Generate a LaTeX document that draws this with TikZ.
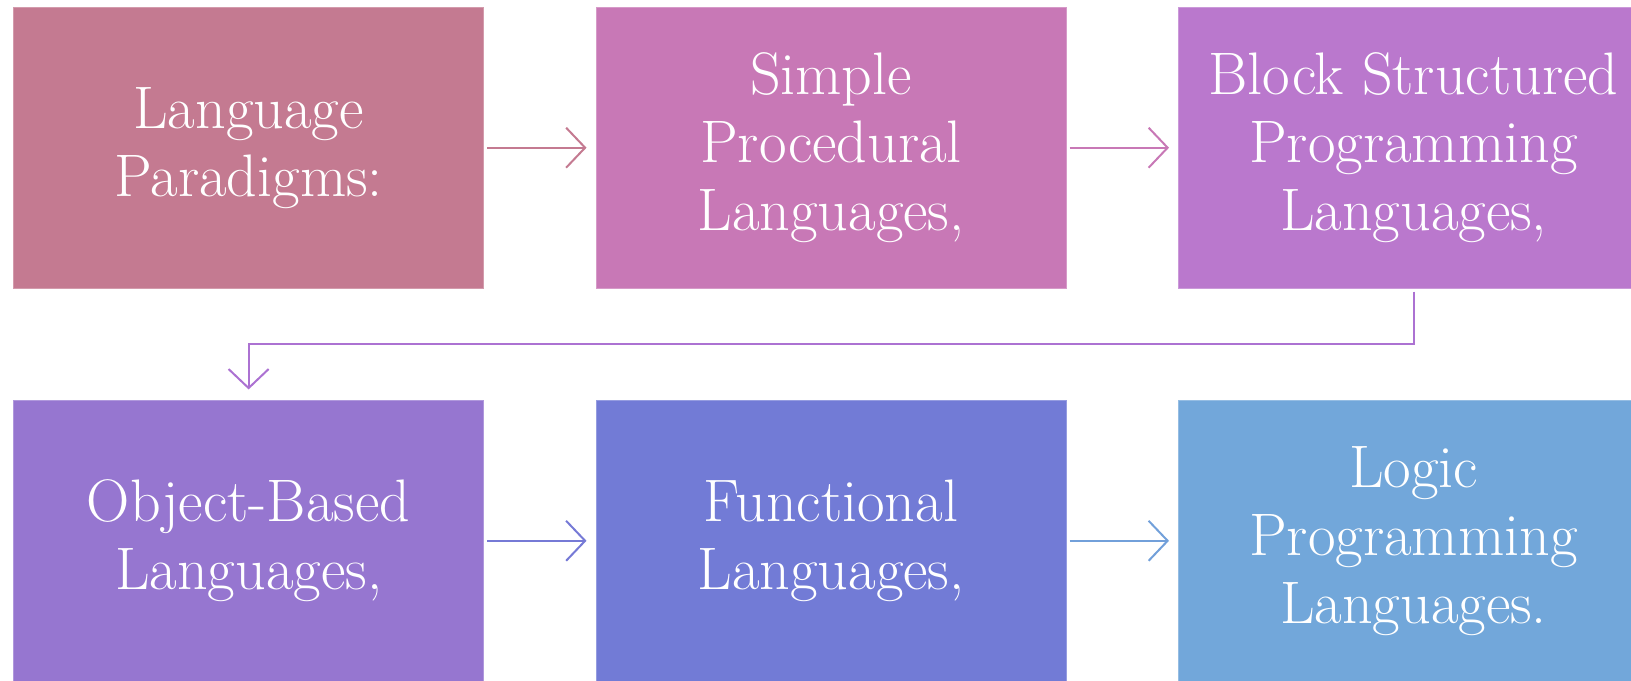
\documentclass[tikz,border=0pt]{standalone}
\usetikzlibrary{arrows.meta}
\definecolor{cA}{RGB}{196,122,145}
\definecolor{cB}{RGB}{200,120,182}
\definecolor{cC}{RGB}{186,120,205}
\definecolor{cD}{RGB}{150,118,208}
\definecolor{cE}{RGB}{114,123,214}
\definecolor{cF}{RGB}{114,167,218}
\definecolor{aC}{RGB}{172,114,210}
\definecolor{aE}{RGB}{118,122,214}
\definecolor{aF}{RGB}{114,160,218}
\tikzset{
  box/.style={rectangle, inner sep=0pt, minimum width=235pt, minimum height=140.35pt,
    align=center, text=white, font=\fontsize{30}{34}\selectfont, line width=0.5pt},
  arr/.style={line width=1pt, -{Straight Barb[length=9.5pt,width=20pt,line width=1pt]}}
}
\begin{document}
\begin{tikzpicture}[x=0.5pt,y=-0.5pt]
\useasboundingbox (0,0) rectangle (1631,680);
\clip (0,0) rectangle (1631,680);
\node[box, fill=cA, draw=cA!75!white] (b1) at (248.6,147.7) {Language\\Paradigms:};
\node[box, fill=cB, draw=cB!75!white] (b2) at (831,147.7) {Simple\\Procedural\\Languages,};
\node[box, fill=cC, draw=cC!75!white] (b3) at (1413.5,147.7) {Block Structured\\Programming\\Languages,};
\node[box, fill=cD, draw=cD!75!white] (b4) at (248.6,540.8) {Object-Based\\Languages,};
\node[box, fill=cE, draw=cE!75!white] (b5) at (831,540.8) {Functional\\Languages,};
\node[box, fill=cF, draw=cF!75!white] (b6) at (1413.5,540.8) {Logic\\Programming\\Languages.};
\draw[arr, cA] ([xshift=1.5pt]b1.east) -- ([xshift=-4.5pt]b2.west);
\draw[arr, cB] ([xshift=1.5pt]b2.east) -- ([xshift=-4.5pt]b3.west);
\draw[arr, aE] ([xshift=1.5pt]b4.east) -- ([xshift=-4.5pt]b5.west);
\draw[arr, aF] ([xshift=1.5pt]b5.east) -- ([xshift=-4.5pt]b6.west);
\coordinate (bend) at (1413.5,344);
\draw[arr, aC] ([yshift=-1.5pt]b3.south) -- (bend) -| ([yshift=5.25pt]b4.north);
\end{tikzpicture}
\end{document}
